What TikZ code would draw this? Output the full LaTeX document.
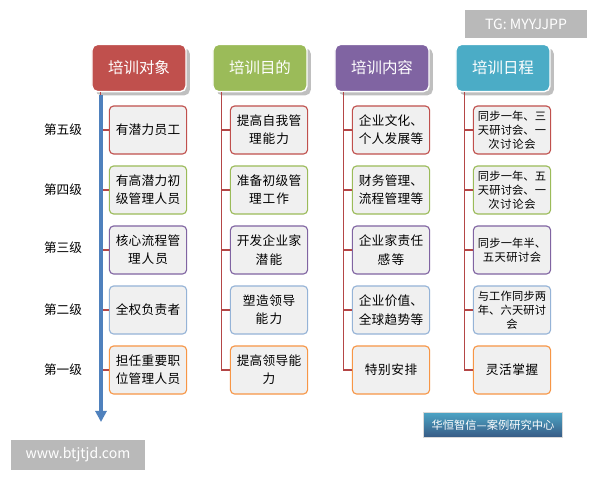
\documentclass[tikz,border=0pt]{standalone}
\usepackage{fontspec}
\setmainfont{Noto Sans CJK SC}
\XeTeXlinebreaklocale "zh"
\XeTeXlinebreakskip=0pt plus 1pt
\usetikzlibrary{calc, arrows.meta, shadows}
\definecolor{cRed}{RGB}{192,80,77}
\definecolor{cGreen}{RGB}{155,187,89}
\definecolor{cPurple}{RGB}{128,100,162}
\definecolor{cTeal}{RGB}{75,172,198}
\definecolor{cOrange}{RGB}{247,150,70}
\definecolor{cBlue}{RGB}{79,129,189}
\definecolor{cLine}{RGB}{180,70,70}
\tikzset{
  head/.style={draw=white, line width=1pt, rounded corners=4pt, minimum width=2.35cm,
    minimum height=1.18cm, text=white, font=\fontsize{11}{13}\selectfont, drop shadow},
  item/.style={draw=#1, line width=0.8pt, fill=gray!12, rounded corners=3pt,
    minimum width=1.93cm, minimum height=1.2cm, text width=1.85cm, align=center,
    inner sep=1pt, font=\fontsize{9}{13}\selectfont},
  small/.style={font=\fontsize{8}{10}\selectfont},
  lvl/.style={font=\fontsize{9}{11}\selectfont},
  link/.style={draw=cLine, line width=0.8pt}
}
\begin{document}
\begin{tikzpicture}[x=0.025cm, y=-0.025cm]
  \useasboundingbox (0,0) rectangle (600,480);
  \fill[white] (0,0) rectangle (600,480);

  % watermark boxes
  \node[fill=gray!55, text=white, minimum width=3.07cm, minimum height=0.7cm,
    font=\fontsize{10}{12}\selectfont] (tg) at (526,24) {TG: MYYJJPP};
  \node[fill=gray!55, text=white, minimum width=3.37cm, minimum height=0.75cm,
    font=\fontsize{10}{12}\selectfont] (web) at (78,455) {www.btjtjd.com};
  \node[draw=gray!30, top color=cTeal!80!cBlue, bottom color=cBlue!70!black, text=white,
    minimum width=3.47cm, minimum height=0.62cm, font=\fontsize{8}{10}\selectfont] (logo)
    at (493,425) {华恒智信—案例研究中心};

  % headers
  \node[head, fill=cRed] (h1) at (139,68) {培训对象};
  \node[head, fill=cGreen] (h2) at (260,68) {培训目的};
  \node[head, fill=cPurple] (h3) at (382,68) {培训内容};
  \node[head, fill=cTeal] (h4) at (503,68) {培训日程};

  % level labels
  \foreach \t/\y in {第五级/130, 第四级/190, 第三级/248, 第二级/310, 第一级/370}
    \node[lvl] at (63,\y) {\t};

  % items
  \foreach \c/\x/\s/\a/\b/\cc/\d/\e in {
    1/148/item/有潜力员工/有高潜力初\\级管理人员/核心流程管\\理人员/全权负责者/担任重要职\\位管理人员,
    2/269/item/提高自我管\\理能力/准备初级管\\理工作/开发企业家\\潜能/塑造领导\\能力/提高领导能\\力,
    3/391/item/企业文化、\\个人发展等/财务管理、\\流程管理等/企业家责任\\感等/企业价值、\\全球趋势等/特别安排,
    4/512/small/同步一年、三\\天研讨会、一\\次讨论会/同步一年、五\\天研讨会、一\\次讨论会/同步一年半、\\五天研讨会/与工作同步两\\年、六天研讨\\会/灵活掌握}{
    \node[item=cRed, \s] (b\c1) at (\x,130) {\a};
    \node[item=cGreen, \s] (b\c2) at (\x,190) {\b};
    \node[item=cPurple, \s] (b\c3) at (\x,250) {\cc};
    \node[item=cBlue!60, \s] (b\c4) at (\x,310) {\d};
    \node[item=cOrange] (b\c5) at (\x,370) {\e};
    \draw[link] ($(h\c.south west)+(9,0)$) |- (b\c5.west);
    \foreach \r in {1,...,4}
      \draw[link] (b\c\r.west) -- ++(-9,0);
  }

  % level arrow
  \coordinate (aS) at (101,95);
  \coordinate (aE) at (101,422);
  \draw[cBlue, line width=2.5pt, -{Triangle[length=8pt,width=8pt]}] (aS) -- (aE);
\end{tikzpicture}
\end{document}
